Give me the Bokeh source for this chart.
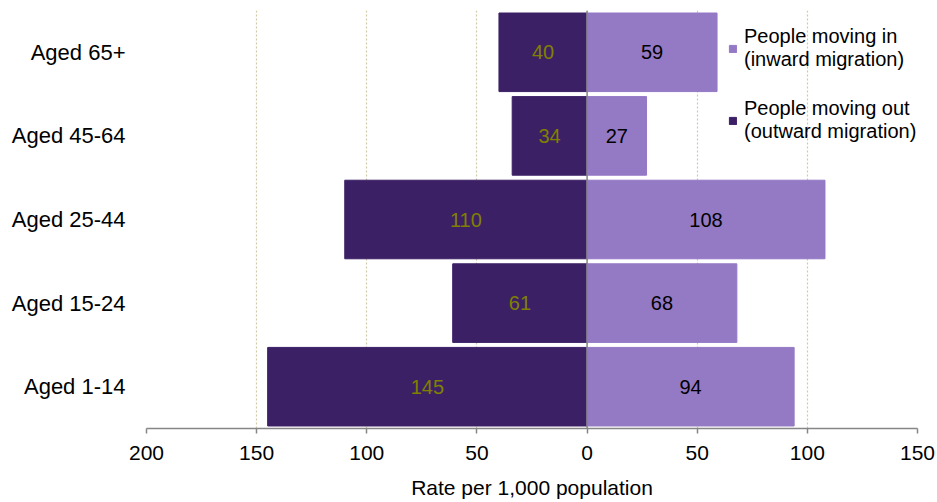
from bokeh.plotting import figure
from bokeh.models import Range1d, FactorRange, FixedTicker, Span, Legend, LegendItem, ColumnDataSource
from bokeh.core.properties import value
from bokeh.embed import file_html
from bokeh.resources import INLINE

# ---- data ----
categories = ["Aged 1-14", "Aged 15-24", "Aged 25-44", "Aged 45-64", "Aged 65+"]
outward = [145, 61, 110, 34, 40]   # people moving out (rate per 1,000)
inward = [94, 68, 108, 27, 59]     # people moving in (rate per 1,000)
x_ticks = [-200, -150, -100, -50, 0, 50, 100, 150]
x_tick_labels = {t: str(abs(t)) for t in x_ticks}
legend_in = "People moving in\n(inward migration)"
legend_out = "People moving out\n(outward migration)"
x_title = "Rate per 1,000 population"

FONT = "Liberation Sans"
C_OUT = "#3C2066"
C_IN = "#9479C5"

src = ColumnDataSource(dict(
    cat=categories,
    out_left=[-v for v in outward],
    out_mid=[-v / 2 for v in outward],
    out_txt=[str(v) for v in outward],
    inw=inward,
    in_mid=[v / 2 for v in inward],
    in_txt=[str(v) for v in inward],
    zero=[0] * len(categories),
))

p = figure(width=937, height=502, output_backend="svg", toolbar_location=None,
           x_range=Range1d(-200, 150), y_range=FactorRange(*categories),
           min_border_left=146, min_border_right=20, min_border_top=10, min_border_bottom=74)
p.outline_line_color = None
p.background_fill_color = "white"
p.border_fill_color = "white"

r_out = p.hbar(y="cat", left="out_left", right="zero", height=0.94, source=src,
               fill_color=C_OUT, line_color=C_OUT)
r_in = p.hbar(y="cat", left="zero", right="inw", height=0.94, source=src,
              fill_color=C_IN, line_color=C_IN)

p.text(x="out_mid", y="cat", text="out_txt", source=src, text_align="center",
       text_baseline="middle", text_color="#808000", text_font=value(FONT), text_font_size="20px")
p.text(x="in_mid", y="cat", text="in_txt", source=src, text_align="center",
       text_baseline="middle", text_color="black", text_font=value(FONT), text_font_size="20px")

p.add_layout(Span(location=0, dimension="height", line_color="#868686", line_width=1.5))

# grid
p.ygrid.grid_line_color = None
p.xgrid.ticker = FixedTicker(ticks=x_ticks)
p.xgrid.grid_line_color = "#CFC9A6"
p.xgrid.grid_line_dash = "2 2"
p.xgrid.grid_line_width = 1.2

# x axis
p.xaxis.ticker = FixedTicker(ticks=x_ticks)
p.xaxis.major_label_overrides = x_tick_labels
p.xaxis.axis_label = x_title
p.xaxis.axis_label_text_font = FONT
p.xaxis.axis_label_text_font_style = "normal"
p.xaxis.axis_label_text_font_size = "21px"
p.xaxis.axis_label_text_color = "black"
p.xaxis.axis_label_standoff = 13
p.xaxis.major_label_text_font = FONT
p.xaxis.major_label_text_font_size = "21px"
p.xaxis.major_label_text_color = "black"
p.xaxis.major_label_standoff = 12
p.xaxis.axis_line_color = "#868686"
p.xaxis.axis_line_width = 1.5
p.xaxis.major_tick_line_color = "#868686"
p.xaxis.major_tick_line_width = 1.5
p.xaxis.major_tick_in = 0
p.xaxis.major_tick_out = 5
p.xaxis.minor_tick_line_color = None

# y axis
p.yaxis.axis_line_color = None
p.yaxis.major_tick_line_color = None
p.yaxis.minor_tick_line_color = None
p.yaxis.major_label_text_font = FONT
p.yaxis.major_label_text_font_size = "22px"
p.yaxis.major_label_text_color = "black"
p.yaxis.major_label_standoff = 15

legend = Legend(items=[LegendItem(label=legend_in, renderers=[r_in]),
                       LegendItem(label=legend_out, renderers=[r_out])],
                location=(582, 285), padding=0, margin=0, spacing=26,
                glyph_width=9, glyph_height=9, label_standoff=7,
                label_text_font=FONT, label_text_font_size="20px",
                label_text_color="black", border_line_color=None,
                background_fill_alpha=0)
p.add_layout(legend)

open("out.html", "w").write(file_html(p, INLINE))
